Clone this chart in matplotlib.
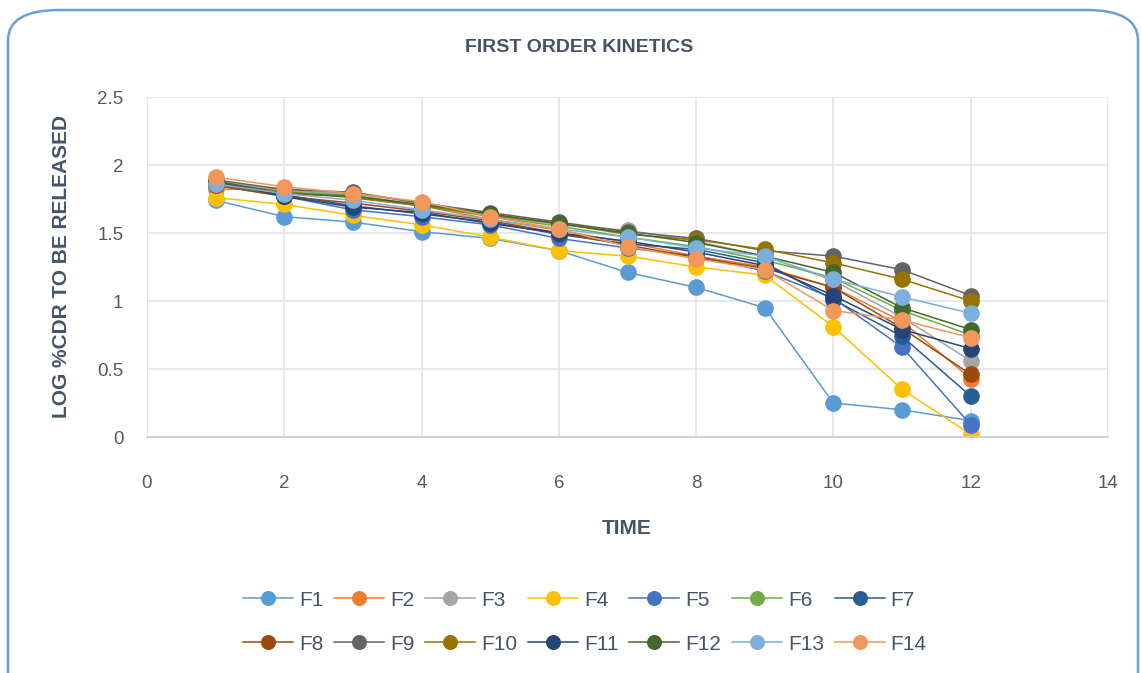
import numpy as np
import matplotlib.pyplot as plt
from matplotlib.patches import FancyBboxPatch

plt.rcParams['font.family'] = ['Liberation Sans', 'DejaVu Sans']

time = [1, 2, 3, 4, 5, 6, 7, 8, 9, 10, 11, 12]

F1 = [1.74, 1.62, 1.58, 1.51, 1.46, 1.37, 1.21, 1.10, 0.95, 0.25, 0.20, 0.12]
F2 = [1.82, 1.83, 1.76, 1.70, 1.60, 1.52, 1.43, 1.33, 1.25, 1.10, 0.85, 0.43]
F3 = [1.88, 1.81, 1.79, 1.72, 1.63, 1.56, 1.52, 1.44, 1.33, 1.15, 0.88, 0.56]
F4 = [1.76, 1.71, 1.63, 1.56, 1.47, 1.37, 1.33, 1.25, 1.19, 0.81, 0.35, 0.02]
F5 = [1.85, 1.77, 1.67, 1.62, 1.56, 1.46, 1.39, 1.33, 1.22, 1.02, 0.66, 0.09]
F6 = [1.87, 1.80, 1.78, 1.70, 1.62, 1.55, 1.47, 1.40, 1.30, 1.17, 0.93, 0.75]
F7 = [1.86, 1.78, 1.70, 1.64, 1.58, 1.49, 1.42, 1.38, 1.28, 1.01, 0.74, 0.30]
F8 = [1.85, 1.77, 1.72, 1.66, 1.59, 1.50, 1.41, 1.32, 1.24, 1.10, 0.80, 0.46]
F9 = [1.89, 1.82, 1.80, 1.72, 1.65, 1.58, 1.51, 1.46, 1.37, 1.33, 1.23, 1.04]
F10 = [1.87, 1.80, 1.76, 1.70, 1.63, 1.57, 1.49, 1.45, 1.38, 1.28, 1.16, 1.00]
F11 = [1.88, 1.77, 1.69, 1.65, 1.57, 1.50, 1.44, 1.36, 1.26, 1.04, 0.79, 0.65]
F12 = [1.88, 1.79, 1.77, 1.71, 1.64, 1.57, 1.50, 1.43, 1.33, 1.21, 0.95, 0.79]
F13 = [1.86, 1.79, 1.74, 1.67, 1.60, 1.53, 1.47, 1.39, 1.33, 1.16, 1.03, 0.91]
F14 = [1.91, 1.84, 1.79, 1.73, 1.62, 1.53, 1.40, 1.31, 1.23, 0.93, 0.86, 0.73]

names = ["F%d" % i for i in range(1, 15)]
series = [F1, F2, F3, F4, F5, F6, F7, F8, F9, F10, F11, F12, F13, F14]
colors = ["#5B9BD5", "#ED7D31", "#A5A5A5", "#FFC000", "#4472C4", "#70AD47",
          "#255E91", "#9E480E", "#636363", "#997300", "#264478", "#43682B",
          "#7CAFDD", "#F1975A"]

txt = "#44546A"
tick = "#595959"

fig = plt.figure(figsize=(11.41, 6.73), dpi=100)
fig.patch.set_facecolor("white")

# rounded chart border, bottom edge runs off the figure
W, H = 1141, 673
box = FancyBboxPatch((8 / W, -40 / H), 1130 / W, (673 - 10 + 40) / H,
                     boxstyle="round,pad=0,rounding_size=0.045",
                     transform=fig.transFigure, facecolor="none",
                     edgecolor="#6A9FD8", lw=1.8, clip_on=False)
fig.patches.append(box)

ax = fig.add_axes([147 / W, 1 - 437 / H, (1108 - 147) / W, (437 - 97) / H])

handles = []
for name, y, c in zip(names, series, colors):
    h, = ax.plot(time, y, color=c, lw=1.1, marker="o", markersize=12,
                 markeredgewidth=0, label=name)
    handles.append(h)

ax.set_xlim(0, 14)
ax.set_ylim(0, 2.5)
ax.set_xticks(np.arange(0, 15, 2))
ax.set_yticks([0, 0.5, 1, 1.5, 2, 2.5])
ax.set_yticklabels(["0", "0.5", "1", "1.5", "2", "2.5"])
ax.grid(color="#E1E4EA", lw=1.2)
ax.set_axisbelow(True)
for s in ["top", "right", "left"]:
    ax.spines[s].set_visible(False)
ax.spines["bottom"].set_color("#C9CED6")
ax.spines["bottom"].set_linewidth(1.2)
ax.tick_params(length=0, labelsize=13.5, colors=tick)
ax.tick_params(axis="x", pad=27)
ax.tick_params(axis="y", pad=17)

fig.text(579 / W, 1 - 48 / H, "FIRST ORDER KINETICS", ha="center", va="center",
         fontsize=14, fontweight="bold", color=txt)
fig.text(62 / W, 1 - 267 / H, "LOG %CDR TO BE RELEASED", ha="center", va="center",
         rotation=90, fontsize=15, fontweight="bold", color=txt)
fig.text(627 / W, 1 - 529 / H, "TIME", ha="center", va="center",
         fontsize=15, fontweight="bold", color=txt)

# legend filled row by row: 7 entries per row
order = []
for i in range(7):
    order += [i, i + 7]
leg = fig.legend([handles[i] for i in order], [names[i] for i in order],
                 ncol=7, loc="center", bbox_to_anchor=(585 / W, 1 - 622 / H),
                 frameon=False, fontsize=15, handlelength=2.4,
                 columnspacing=0.5, handletextpad=0.3, labelspacing=1.2,
                 markerscale=0.9)
for t in leg.get_texts():
    t.set_color(txt)

fig.savefig("out.png", dpi=100)
